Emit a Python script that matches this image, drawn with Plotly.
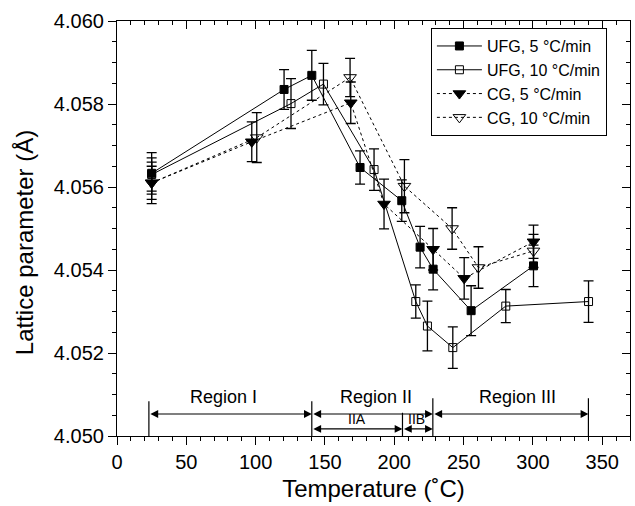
import plotly.graph_objects as go

# ---- data ----
ufg5_T = [25, 120.5, 140.5, 175.3, 205.4, 218.6, 228, 255.4, 300.4]
ufg5_a = [4.05633, 4.05835, 4.05869, 4.05647, 4.05567, 4.05455, 4.05402, 4.05302, 4.05410]
ufg5_e = [0.0005, 0.00048, 0.0006, 0.0004, 0.0005, 0.0005, 0.0005, 0.0006, 0.0005]

ufg10_T = [25, 125.5, 148.9, 185.4, 215.5, 223.9, 242.2, 280.4, 340.1]
ufg10_a = [4.05630, 4.05801, 4.05848, 4.05642, 4.05324, 4.05265, 4.05213, 4.05313, 4.05324]
ufg10_e = [0.0004, 0.0006, 0.0005, 0.0005, 0.0004, 0.0006, 0.0005, 0.0004, 0.0005]

cg5_T = [25, 97.2, 168.6, 192.6, 228, 250.4, 300.4]
cg5_a = [4.05610, 4.05709, 4.05803, 4.05559, 4.05450, 4.05380, 4.05468]
cg5_e = [0.0005, 0.00048, 0.0005, 0.0006, 0.0005, 0.0005, 0.0004]

cg10_T = [25, 100.8, 168.1, 207.3, 241.7, 260.7, 300.4]
cg10_a = [4.05610, 4.05719, 4.05864, 4.05602, 4.05500, 4.05406, 4.05446]
cg10_e = [0.0004, 0.0006, 0.00046, 0.00064, 0.0005, 0.0005, 0.0004]

series_names = ["UFG, 5 °C/min", "UFG, 10 °C/min", "CG, 5 °C/min", "CG, 10 °C/min"]

# region boundaries (°C) and labels
region_bounds = [23, 140.5, 227.8, 340]
sub_bound = 205.9
region_labels = ["Region I", "Region II", "Region III"]
sub_labels = ["IIA", "IIB"]

x_title = "Temperature (˚C)"
y_title = "Lattice parameter (Å)"

FONT = "Liberation Sans, Arial, Helvetica, sans-serif"

fig = go.Figure()

def add(T, a, e, name, symbol, size, dash):
    fig.add_trace(go.Scatter(
        x=T, y=a, name=name, mode="lines+markers",
        line=dict(color="black", width=1, dash=dash),
        marker=dict(symbol=symbol, size=size, color="black",
                    line=dict(color="black", width=1)),
        error_y=dict(type="data", array=e, visible=True, color="black",
                     thickness=1.3, width=5),
    ))

add(ufg5_T, ufg5_a, ufg5_e, series_names[0], "square", 8, "solid")
add(ufg10_T, ufg10_a, ufg10_e, series_names[1], "square-open", 8, "solid")
add(cg5_T, cg5_a, cg5_e, series_names[2], "triangle-down", 11, "dot")
add(cg10_T, cg10_a, cg10_e, series_names[3], "triangle-down-open", 11, "dot")

# invisible trace for mirrored (inside-tick) axes
fig.add_trace(go.Scatter(x=[0], y=[4.05], xaxis="x2", yaxis="y2",
                         mode="markers", marker=dict(opacity=0),
                         showlegend=False, hoverinfo="skip"))

# region vertical lines
shapes = []
for b, top in [(region_bounds[0], 4.05084), (region_bounds[1], 4.05084),
               (region_bounds[2], 4.05091), (region_bounds[3], 4.05091)]:
    shapes.append(dict(type="line", xref="x", yref="y", x0=b, x1=b,
                       y0=4.050, y1=top, line=dict(color="black", width=1.2)))
shapes.append(dict(type="line", xref="x", yref="y", x0=sub_bound, x1=sub_bound,
                   y0=4.050, y1=4.05056, line=dict(color="black", width=1.2)))

annotations = []
def arrow(x0, x1, y):
    annotations.append(dict(x=x1, y=y, ax=x0, ay=y, xref="x", yref="y",
                            axref="x", ayref="y", text="", showarrow=True,
                            arrowhead=2, startarrowhead=2, arrowside="end+start",
                            arrowsize=1.3, arrowwidth=1.2, arrowcolor="black",
                            standoff=0, startstandoff=0))

y_main = 4.05053
y_sub = 4.05017
for i in range(3):
    arrow(region_bounds[i], region_bounds[i + 1], y_main)
arrow(region_bounds[1], sub_bound, y_sub)
arrow(sub_bound, region_bounds[2], y_sub)

for lab, xc in zip(region_labels, [76.5, 187, 289]):
    annotations.append(dict(x=xc, y=4.05095, xref="x", yref="y", text=lab,
                            showarrow=False, font=dict(size=18, color="black", family=FONT)))
for lab, xc in zip(sub_labels, [173, 216.2]):
    annotations.append(dict(x=xc, y=4.0504, xref="x", yref="y", text=lab,
                            showarrow=False, font=dict(size=14, color="black", family=FONT)))

# y axis title placed as rotated text
annotations.append(dict(x=-0.181, y=0.465, xref="paper", yref="paper",
                        text=y_title, textangle=-90, showarrow=False,
                        xanchor="center", yanchor="middle",
                        font=dict(size=24, color="black", family=FONT)))

axis_common = dict(showline=True, linecolor="black", linewidth=1.2,
                   ticks="outside", tickcolor="black", ticklen=8, tickwidth=1.2,
                   showgrid=False, zeroline=False,
                   tickfont=dict(size=20, color="black", family=FONT))

fig.update_layout(
    width=635, height=506,
    margin=dict(l=117, r=5, t=21, b=70),
    paper_bgcolor="white", plot_bgcolor="white",
    font=dict(family=FONT, color="black"),
    xaxis=dict(range=[0, 370], tickvals=[0, 50, 100, 150, 200, 250, 300, 350],
               minor=dict(dtick=10, tick0=0, ticks="outside", ticklen=4,
                          tickcolor="black", tickwidth=1.2),
               title=dict(text=x_title, font=dict(size=24, family=FONT),
                          standoff=8),
               **axis_common),
    yaxis=dict(range=[4.050, 4.060], tickvals=[4.050, 4.052, 4.054, 4.056, 4.058, 4.060],
               ticktext=["4.050", "4.052", "4.054", "4.056", "4.058", "4.060"],
               minor=dict(dtick=0.0005, tick0=4.05, ticks="outside", ticklen=4,
                          tickcolor="black", tickwidth=1.2),
               **axis_common),
    xaxis2=dict(overlaying="x", side="top", range=[0, 370],
                showline=True, linecolor="black", linewidth=1.2,
                ticks="inside", tickcolor="black", ticklen=8, tickwidth=1.2,
                tickvals=[0, 50, 100, 150, 200, 250, 300, 350],
                minor=dict(dtick=10, tick0=0, ticks="inside", ticklen=4,
                           tickcolor="black", tickwidth=1.2),
                showticklabels=False, showgrid=False, zeroline=False),
    yaxis2=dict(overlaying="y", side="right", range=[4.050, 4.060],
                showline=True, linecolor="black", linewidth=1.2,
                ticks="inside", tickcolor="black", ticklen=8, tickwidth=1.2,
                tickvals=[4.050, 4.052, 4.054, 4.056, 4.058, 4.060],
                minor=dict(dtick=0.0005, tick0=4.05, ticks="inside", ticklen=4,
                           tickcolor="black", tickwidth=1.2),
                showticklabels=False, showgrid=False, zeroline=False),
    legend=dict(x=0.955, y=0.983, xanchor="right", yanchor="top",
                bordercolor="black", borderwidth=1, bgcolor="white",
                font=dict(size=16, color="black", family=FONT),
                itemwidth=45, tracegroupgap=0),
    shapes=shapes,
    annotations=annotations,
    showlegend=True,
)

fig.write_html("out.html")
